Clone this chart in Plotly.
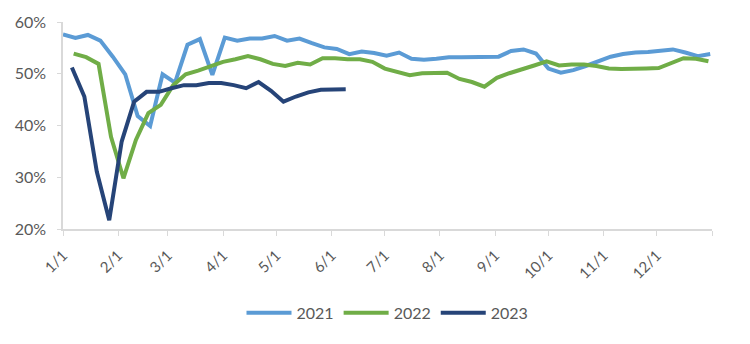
import pandas as pd
import plotly.graph_objects as go

# Weekly series, all plotted on a common calendar (year 2021) for overlay
start_2021 = "2021-01-01"
start_2022 = "2021-01-07"
start_2023 = "2021-01-06"

vals_2021 = [57.6, 56.9, 57.5, 56.4, 53.3, 49.9, 41.8, 39.9, 49.9, 48.3,
             55.6, 56.7, 49.8, 57.0, 56.4, 56.8, 56.8, 57.3, 56.4, 56.8,
             55.9, 55.1, 54.8, 53.8, 54.3, 54.0, 53.5, 54.1, 52.9, 52.7,
             52.9, 53.2, 53.2, 53.2, 53.3, 53.3, 54.4, 54.7, 53.9, 51.0,
             50.2, 50.7, 51.5, 52.3, 53.3, 53.8, 54.1, 54.2, 54.4, 54.7,
             54.1, 53.4, 53.8]

vals_2022 = [53.9, 53.2, 51.9, 37.8, 29.8, 37.2, 42.4, 44.0, 47.8, 49.9,
             50.6, 51.4, 52.3, 52.8, 53.4, 52.8, 51.9, 51.5, 52.1, 51.8,
             53.0, 53.0, 52.8, 52.8, 52.3, 51.0, 50.4, 49.7, 50.1, 50.2,
             50.2, 49.0, 48.4, 47.5, 49.2, 50.1, 50.8, 51.6, 52.4, 51.6,
             51.8, 51.8, 51.5, 51.0, 50.9, 50.9, 51.0, 51.1, 52.0, 53.0,
             52.9, 52.4]

vals_2023 = [51.2, 45.6, 31.1, 21.7, 36.9, 44.6, 46.5, 46.5, 47.2, 47.8,
             47.8, 48.2, 48.2, 47.8, 47.2, 48.4, 46.7, 44.6, 45.6, 46.4,
             46.9, 47.0, 47.0]

series_names = ["2021", "2022", "2023"]
colors = ["#5B9BD5", "#70AD47", "#264478"]

month_ticks = [f"2021-{m:02d}-01" for m in range(1, 13)] + ["2022-01-01"]
month_labels = [f"{m}/1" for m in range(1, 13)] + [""]

y_ticks = [20, 30, 40, 50, 60]
y_labels = ["20%", "30%", "40%", "50%", "60%"]

def weekly(start, n):
    return pd.date_range(start, periods=n, freq="7D")

fig = go.Figure()
for name, start, vals, col in zip(series_names,
                                  [start_2021, start_2022, start_2023],
                                  [vals_2021, vals_2022, vals_2023], colors):
    fig.add_trace(go.Scatter(
        x=weekly(start, len(vals)), y=vals, mode="lines", name=name,
        line=dict(color=col, width=4)))

font = "Lato, Carlito, Calibri, Arial"
axis_col = "#D9D9D9"
fig.update_layout(
    width=750, height=344,
    margin=dict(l=63, r=38, t=22, b=115),
    paper_bgcolor="white", plot_bgcolor="white",
    font=dict(family=font, size=15, color="#595959"),
    showlegend=True,
    legend=dict(orientation="h", x=0.5, xanchor="center", y=-0.405,
                yanchor="middle", font=dict(size=16, color="#595959"),
                itemwidth=45, tracegroupgap=0),
    xaxis=dict(type="date", range=["2021-01-01", "2022-01-01"],
               tickvals=month_ticks, ticktext=month_labels,
               tickangle=-45, showgrid=False, zeroline=False,
               showline=True, linecolor=axis_col, linewidth=1.5,
               ticks="outside", ticklen=5, tickcolor=axis_col,
               ticklabelstandoff=5,
               tickfont=dict(size=15, color="#595959")),
    yaxis=dict(range=[20, 60], tickvals=y_ticks, ticktext=y_labels,
               showgrid=False, zeroline=False,
               showline=True, linecolor=axis_col, linewidth=1.5,
               ticks="outside", ticklen=4, tickcolor=axis_col,
               ticklabelstandoff=8,
               tickfont=dict(size=16, color="#595959")),
)

fig.write_html("out.html")
